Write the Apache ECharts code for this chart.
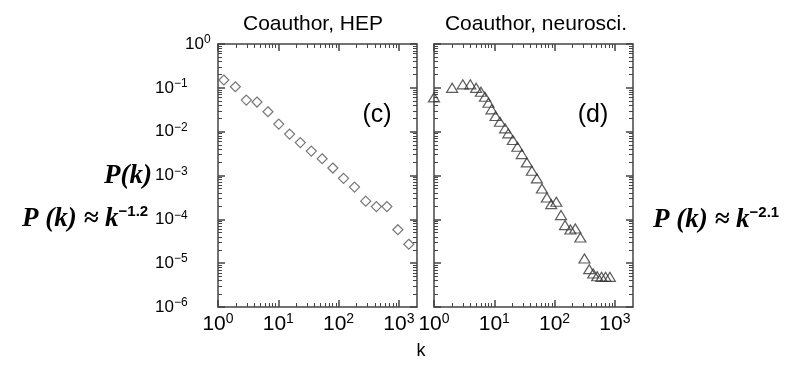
<!DOCTYPE html>
<html>
<head>
<meta charset="utf-8">
<script src="https://cdn.jsdelivr.net/npm/echarts@6/dist/echarts.min.js"></script>
<style>
  html, body { margin: 0; padding: 0; background: #fff; }
  #chart { width: 801px; height: 366px; }
</style>
</head>
<body>
<div id="chart"></div>
<script>
// degree distributions
const hepK = [1.25, 1.94, 2.95, 4.43, 6.74, 10.2, 15.4, 23.2, 35.3, 53.4, 80.5, 121, 184, 282, 424, 634, 962, 1462];
const hepP = [0.151, 0.106, 0.0526, 0.0474, 0.0285, 0.0149, 0.0088, 0.00564, 0.00361, 0.00241, 0.00148, 0.00086, 0.000543, 0.00026, 0.000195, 0.000195, 5.8e-5, 2.7e-5];

const neuroK = [1, 2, 3, 4, 5, 6, 7, 8, 9, 10.5, 12.4, 15.1, 17.1, 20.3, 24.2, 28.6, 34.7, 42, 50.9, 61.7, 74.7, 88, 107, 128, 149, 183, 221, 268, 313, 376, 437, 509, 600, 700, 826];
const neuroP = [0.0607, 0.1, 0.12, 0.12, 0.1, 0.0815, 0.0626, 0.0457, 0.0323, 0.0227, 0.0168, 0.0119, 0.00914, 0.00643, 0.00452, 0.00308, 0.00199, 0.00128, 0.000859, 0.000507, 0.000316, 0.000222, 0.000251, 0.000125, 7.38e-5, 5.88e-5, 6.2e-5, 3.86e-5, 1.28e-5, 7.3e-6, 5.8e-6, 5.05e-6, 4.87e-6, 4.87e-6, 4.87e-6];

// tick labels are powers of ten
const xExponents = [0, 1, 2, 3];
const yExponents = [-6, -5, -4, -3, -2, -1, 0];

const xMin = 1, xMax = 2000;
const yMin = 1e-6, yMax = 1;

const xMajor = xExponents.map(e => Math.pow(10, e));
const yMajor = yExponents.map(e => Math.pow(10, e));

// 2..9 inside every decade
function minorTicks(lo, hi) {
  const out = [];
  for (let e = Math.floor(Math.log10(lo)); e <= Math.ceil(Math.log10(hi)); e++) {
    for (let m = 2; m <= 9; m++) {
      const v = m * Math.pow(10, e);
      if (v > lo && v < hi) out.push(v);
    }
  }
  return out;
}
const xMinor = minorTicks(xMin, xMax);
const yMinor = minorTicks(yMin, yMax);

const frame = '#444';
const sans = 'Liberation Sans';

function powLabel(value, padZero) {
  const e = Math.round(Math.log10(value));
  const sup = e < 0 ? '\u2212' + Math.abs(e) : String(e);
  return (padZero && e === 0 ? '{pad|}' : '') + '{b|10}{sup|' + sup + '}';
}

function makeAxes(dim, gridIndex, showLabels) {
  const isX = dim === 'x';
  const base = {
    type: 'log',
    logBase: 10,
    gridIndex: gridIndex,
    min: isX ? xMin : yMin,
    max: isX ? xMax : yMax,
    splitLine: { show: false },
    axisPointer: { show: false }
  };
  const major = isX ? xMajor : yMajor;
  const minor = isX ? xMinor : yMinor;
  const pos = isX ? ['bottom', 'top'] : ['left', 'right'];
  const line = { show: true, onZero: false, lineStyle: { color: frame, width: 1.5 } };
  const majorTick = { show: true, inside: true, length: 7, customValues: major, lineStyle: { color: frame, width: 1.5 } };
  const minorTick = { show: true, inside: true, length: 4, customValues: minor, lineStyle: { color: frame, width: 1 } };

  const label = isX ? {
    show: showLabels,
    customValues: major,
    margin: 5,
    formatter: v => powLabel(v, false),
    rich: {
      b: { fontFamily: sans, fontSize: 21, color: '#000', lineHeight: 24 },
      sup: { fontFamily: sans, fontSize: 14, color: '#000', lineHeight: 14, verticalAlign: 'top' }
    }
  } : {
    show: showLabels,
    customValues: major,
    margin: 63,
    align: 'left',
    formatter: v => powLabel(v, true),
    rich: {
      pad: { width: 30 },
      b: { fontFamily: sans, fontSize: 17, color: '#000', lineHeight: 20 },
      sup: { fontFamily: sans, fontSize: 12, color: '#000', lineHeight: 12, verticalAlign: 'top' }
    }
  };

  return [
    Object.assign({}, base, { position: pos[0], axisLine: line, axisTick: majorTick, axisLabel: label }),
    Object.assign({}, base, { position: pos[0], axisLine: { show: false, onZero: false }, axisTick: minorTick, axisLabel: { show: false } }),
    Object.assign({}, base, { position: pos[1], axisLine: line, axisTick: majorTick, axisLabel: { show: false } }),
    Object.assign({}, base, { position: pos[1], axisLine: { show: false, onZero: false }, axisTick: minorTick, axisLabel: { show: false } })
  ];
}

const chart = echarts.init(document.getElementById('chart'), null, { renderer: 'canvas' });

const formulaRich = {
  f: { fontFamily: 'Liberation Serif', fontWeight: 'bold', fontStyle: 'italic', fontSize: 27, color: '#000', lineHeight: 30 },
  s: { fontFamily: sans, fontWeight: 'bold', fontSize: 15, color: '#000', lineHeight: 15, verticalAlign: 'top' }
};

function textAt(x, y, text, font, align) {
  return {
    type: 'text', x: x, y: y,
    style: { text: text, font: font, fill: '#000', align: align, verticalAlign: 'middle', textAlign: align, textVerticalAlign: 'middle' }
  };
}

function formulaAt(x, y, text, align) {
  return {
    type: 'text', x: x, y: y,
    style: { text: text, rich: formulaRich, align: align, verticalAlign: 'middle', textAlign: align, textVerticalAlign: 'middle' }
  };
}

const option = {
  backgroundColor: '#fff',
  animation: false,
  grid: [
    { left: 218, top: 44, width: 199, height: 263 },
    { left: 434, top: 44, width: 199, height: 263 }
  ],
  xAxis: makeAxes('x', 0, true).concat(makeAxes('x', 1, true)),
  yAxis: makeAxes('y', 0, true).concat(makeAxes('y', 1, false)),
  series: [
    {
      name: 'Coauthor, HEP',
      type: 'scatter',
      xAxisIndex: 0,
      yAxisIndex: 0,
      symbol: 'diamond',
      symbolSize: [10, 10],
      itemStyle: { color: 'rgba(0,0,0,0)', borderColor: '#555', borderWidth: 1.2 },
      data: hepK.map((k, i) => [k, hepP[i]])
    },
    {
      name: 'Coauthor, neurosci.',
      type: 'scatter',
      xAxisIndex: 4,
      yAxisIndex: 4,
      symbol: 'triangle',
      symbolSize: [11, 9],
      itemStyle: { color: 'rgba(0,0,0,0)', borderColor: '#333', borderWidth: 1.2 },
      data: neuroK.map((k, i) => [k, neuroP[i]])
    }
  ],
  graphic: [
    textAt(313, 24, 'Coauthor, HEP', '21px "Liberation Sans"', 'center'),
    textAt(536, 24, 'Coauthor, neurosci.', '21px "Liberation Sans"', 'center'),
    textAt(377, 115, '(c)', '25px "Liberation Sans"', 'center'),
    textAt(593, 115, '(d)', '25px "Liberation Sans"', 'center'),
    textAt(421, 351, 'k', '18px "Liberation Sans"', 'center'),
    formulaAt(152, 176, '{f|P(k)}', 'right'),
    formulaAt(22, 219, '{f|P (k) \u2248 k}{s|\u22121.2}', 'left'),
    formulaAt(653, 220, '{f|P (k) \u2248 k}{s|\u22122.1}', 'left')
  ]
};

chart.setOption(option);
</script>
</body>
</html>
